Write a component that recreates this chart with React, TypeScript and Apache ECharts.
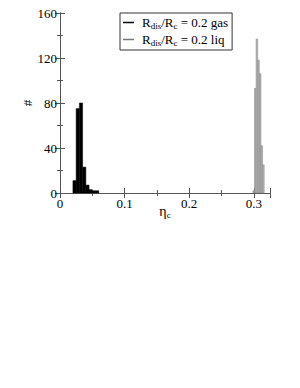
import React, { useEffect, useRef } from "react";
import * as echarts from "echarts";

const gasBinStarts = [0.02, 0.025, 0.03, 0.035, 0.04, 0.045, 0.05, 0.055];
const gasCounts = [11, 75, 80, 23, 7, 3, 2, 2];
const gasBinWidth = 0.005;

const liqBinStarts = [0.2985, 0.301, 0.3035, 0.306, 0.3085, 0.311, 0.3135];
const liqCounts = [2, 93, 137, 118, 106, 42, 25];
const liqBinWidth = 0.0025;

const xTickLabels = ["0", "0.1", "0.2", "0.3"];
const yTicks = [0, 40, 80, 120, 160];

const FONT = "'Liberation Serif', 'DejaVu Serif', serif";
const AXIS_COLOR = "#555";

function histRender(fill: string, stroke: string, lw: number) {
  return (params: any, api: any) => {
    const x0 = api.value(0);
    const x1 = api.value(1);
    const v = api.value(2);
    const p0 = api.coord([x0, 0]);
    const p1 = api.coord([x1, v]);
    return {
      type: "rect",
      shape: { x: p0[0], y: p1[1], width: p1[0] - p0[0], height: p0[1] - p1[1] },
      style: { fill, stroke, lineWidth: lw },
    };
  };
}

export default function App() {
  const ref = useRef<HTMLDivElement>(null);
  useEffect(() => {
    const chart = echarts.init(ref.current!, undefined, { renderer: "svg" });
    const gasData = gasBinStarts.map((s, i) => [s, s + gasBinWidth, gasCounts[i]]);
    const liqData = liqBinStarts.map((s, i) => [s, s + liqBinWidth, liqCounts[i]]);
    const tickStyle = { inside: true, length: 5, lineStyle: { color: AXIS_COLOR, width: 1 } };
    const minorStyle = { show: true, splitNumber: 2, length: 3, lineStyle: { color: AXIS_COLOR, width: 1 } };
    const lineStyle = { show: true, lineStyle: { color: AXIS_COLOR, width: 1 } };
    const rich = {
      sub: { fontFamily: FONT, fontSize: 9, verticalAlign: "bottom", padding: [6, 0, 0, 0], color: "#000" },
      base: { fontFamily: FONT, fontSize: 13, color: "#000" },
      big: { fontFamily: FONT, fontSize: 14, color: "#000" },
    };
    chart.setOption({
      animation: false,
      backgroundColor: "#fff",
      textStyle: { fontFamily: FONT },
      grid: { left: 60, right: 30, top: 13, bottom: 195 },
      legend: {
        orient: "vertical",
        left: 120,
        top: 13,
        padding: [3, 4, 3, 3],
        itemGap: 3,
        itemWidth: 11,
        itemHeight: 1.5,
        icon: "rect",
        borderColor: "#333",
        borderWidth: 1,
        backgroundColor: "#fff",
        data: [
          { name: "gas", itemStyle: { color: "#000" } },
          { name: "liq", itemStyle: { color: "#777" } },
        ],
        formatter: (name: string) => `{base|R}{sub|dis}{base|/R}{sub|c}{base| = 0.2 ${name}}`,
        textStyle: { fontFamily: FONT, fontSize: 13, color: "#000", padding: [0, 0, 0, 3], rich },
      },
      xAxis: [
        {
          type: "value",
          min: 0,
          max: 0.325,
          interval: 0.1,
          name: "{big|η}{sub|c}",
          nameLocation: "middle",
          nameGap: 11,
          nameMoveOverlap: false,
          nameTextStyle: { fontFamily: FONT, rich },
          axisLine: lineStyle,
          axisTick: tickStyle,
          minorTick: minorStyle,
          splitLine: { show: false },
          axisLabel: {
            fontFamily: FONT,
            fontSize: 13,
            color: "#000",
            margin: 4,
            showMaxLabel: false,
            formatter: (v: number) => xTickLabels[Math.round(v * 10)] ?? "",
          },
        },
        {
          type: "value",
          position: "top",
          min: 0,
          max: 0.325,
          interval: 0.1,
          axisLine: lineStyle,
          axisTick: tickStyle,
          minorTick: minorStyle,
          splitLine: { show: false },
          axisLabel: { show: false },
        },
      ],
      yAxis: [
        {
          type: "value",
          min: yTicks[0],
          max: yTicks[yTicks.length - 1],
          interval: 40,
          name: "#",
          nameLocation: "middle",
          nameGap: 26,
          nameMoveOverlap: false,
          nameTextStyle: { fontFamily: FONT, fontSize: 13, color: "#000" },
          axisLine: lineStyle,
          axisTick: tickStyle,
          minorTick: minorStyle,
          splitLine: { show: false },
          axisLabel: { fontFamily: FONT, fontSize: 13, color: "#000", margin: 3 },
        },
        {
          type: "value",
          position: "right",
          min: yTicks[0],
          max: yTicks[yTicks.length - 1],
          interval: 40,
          axisLine: lineStyle,
          axisTick: tickStyle,
          minorTick: minorStyle,
          splitLine: { show: false },
          axisLabel: { show: false },
        },
      ],
      series: [
        {
          name: "gas",
          type: "custom",
          xAxisIndex: 0,
          yAxisIndex: 0,
          itemStyle: { color: "#000" },
          renderItem: histRender("#000", "#000", 0.5),
          encode: { x: [0, 1], y: 2 },
          data: gasData,
        },
        {
          name: "liq",
          type: "custom",
          xAxisIndex: 0,
          yAxisIndex: 0,
          itemStyle: { color: "#777" },
          renderItem: histRender("#b3b3b3", "#808080", 0.5),
          encode: { x: [0, 1], y: 2 },
          data: liqData,
        },
      ],
    });
    return () => chart.dispose();
  }, []);
  return (
    <div
      ref={ref}
      style={{ position: "fixed", left: 0, top: 0, width: 300, height: 388, background: "#fff" }}
    />
  );
}
